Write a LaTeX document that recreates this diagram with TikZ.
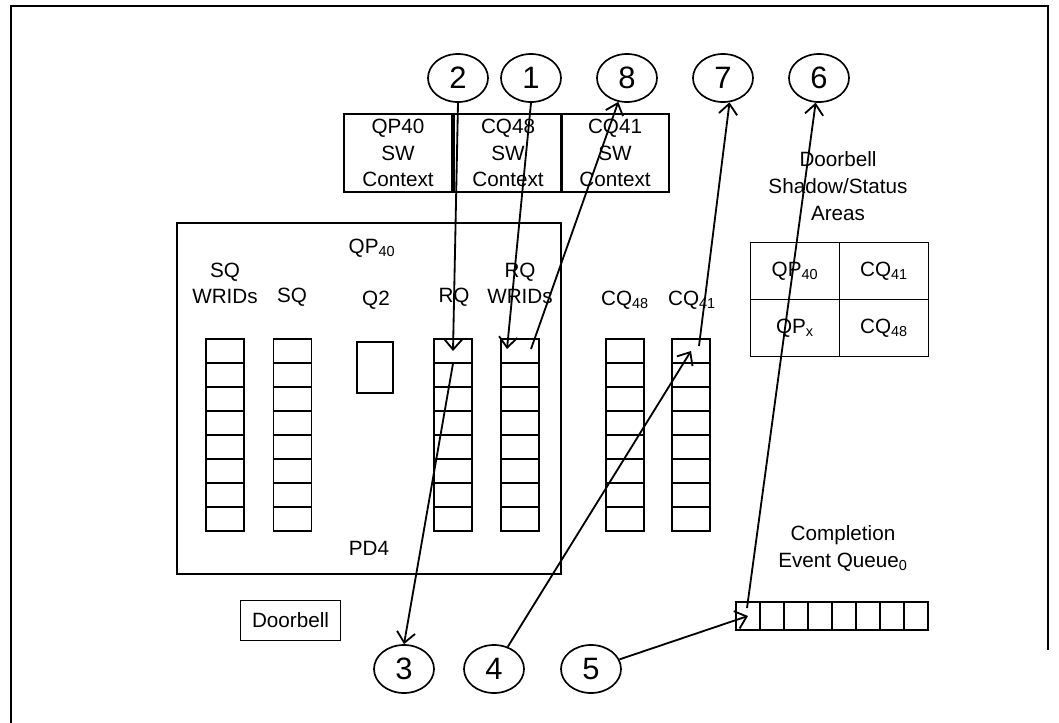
\documentclass[tikz,border=0pt]{standalone}
\usepackage{fontspec}
\setmainfont{Liberation Sans}
\usepackage{tikz}
\usetikzlibrary{arrows.meta,shapes.geometric,calc}
\newcommand{\figfont}{\fontsize{14.7pt}{19pt}\selectfont}
\tikzset{
  num/.style ={ellipse,draw,line width=1.2pt,minimum width=1.5cm,minimum height=1.2cm,inner sep=0pt,font=\fontsize{22pt}{24pt}\selectfont},
  ctx/.style ={draw,line width=1.2pt,minimum width=2.7cm,minimum height=1.95cm,inner sep=0pt,align=center,font=\figfont},
  cell/.style={draw,line width=0.75pt,minimum width=0.95cm,minimum height=0.6cm,inner sep=0pt},
  ecell/.style={draw,line width=0.75pt,minimum width=0.6cm,minimum height=0.7cm,inner sep=0pt},
  shd/.style ={draw,line width=0.75pt,minimum width=2.22cm,minimum height=1.42cm,inner sep=0pt,font=\figfont},
  lab/.style ={align=center,inner sep=0pt,font=\figfont},
  ar/.style  ={-{Straight Barb[length=7.5pt,width=13pt]},line width=1.3pt},
}
\begin{document}
\begin{tikzpicture}[x=0.025cm,y=-0.025cm]
  \useasboundingbox (0,0) rectangle (1059,723);
  % page frame
  \draw[line width=1.5pt] (11,723) -- (11,6) -- (1048,6) -- (1048,650);

  % protection domain
  \node[draw,line width=1.2pt,minimum width=9.6cm,minimum height=8.775cm,inner sep=0pt] (pd) at (369,398.5) {};
  \node[lab] (pdlab) at (369,548) {PD4};
  \node[lab] (qplab) at (372,248) {QP\textsubscript{40}};

  % software contexts
  \node[ctx] (qpctx) at (398,153) {QP40\\SW\\Context};
  \node[ctx] (cqactx) at (508,153) {CQ48\\SW\\Context};
  \node[ctx] (cqbctx) at (615,153) {CQ41\\SW\\Context};

  % queue columns
  \node[lab] (sqwlab) at (225,283.5) {SQ\\WRIDs};
  \node[lab] (sqlab) at (292,297) {SQ};
  \node[lab] (q2lab) at (376,300) {Q2};
  \node[lab] (rqlab) at (454,297) {RQ};
  \node[lab] (rqwlab) at (520,283.5) {RQ\\WRIDs};
  \node[lab] (cqalab) at (625,300) {CQ\textsubscript{48}};
  \node[lab] (cqblab) at (692,300) {CQ\textsubscript{41}};
  \foreach \col/\cx in {sqw/225,sq/292.5,rq/453,rqw/520,cqa/625,cqb/691}
    \foreach \i in {1,...,8}
      \node[cell] (\col\i) at (\cx,{327+24*\i}) {};
  \node[draw,line width=0.75pt,minimum width=0.9cm,minimum height=1.275cm,inner sep=0pt] (q2) at (375,367.5) {};

  % doorbell shadow/status areas
  \node[lab] (shdlab) at (838,186) {Doorbell\\Shadow/Status\\Areas};
  \node[shd] (shqp) at (795,271) {QP\textsubscript{40}};
  \node[shd] (shcqb) at (884,271) {CQ\textsubscript{41}};
  \node[shd] (shqpx) at (795,328) {QP\textsubscript{x}};
  \node[shd] (shcqa) at (884,328) {CQ\textsubscript{48}};

  % completion event queue
  \node[lab] (ceqlab) at (843,548.5) {Completion\\Event Queue\textsubscript{0}};
  \foreach \i in {1,...,8}
    \node[ecell] (ceq\i) at ({724+24*\i},616) {};

  \node[draw,line width=0.75pt,minimum width=2.52cm,minimum height=0.98cm,inner sep=0pt,font=\figfont] (db) at (290.5,620.5) {Doorbell};

  % numbered steps
  \node[num] (n2) at (458,78) {2};
  \node[num] (n1) at (531,78) {1};
  \node[num] (n8) at (627,78) {8};
  \node[num] (n7) at (723,78) {7};
  \node[num] (n6) at (819,78) {6};
  \node[num] (n3) at (404,669) {3};
  \node[num] (n4) at (494,669) {4};
  \node[num] (n5) at (591,669) {5};

  \coordinate (t1) at ($(rqw1)+(-13,-2)$);
  \coordinate (s8) at ($(rqw1)+(11,-2)$);
  \coordinate (s7) at ($(cqb1)+(8,-5)$);
  \coordinate (s6) at ($(ceq1)+(-1,-8)$);

  \draw[ar] (n1.south) -- (t1);
  \draw[ar] (n2.south) -- (rq1.center);
  \draw[ar] (rq1.south) -- (n3.north);
  \draw[ar] (n4) -- (cqb1.center);
  \draw[ar] (n5) -- (ceq1.center);
  \draw[ar] (s6) -- (n6);
  \draw[ar] (s7) -- (n7.-75);
  \draw[ar] (s8) -- (n8.-110);
\end{tikzpicture}
\end{document}
